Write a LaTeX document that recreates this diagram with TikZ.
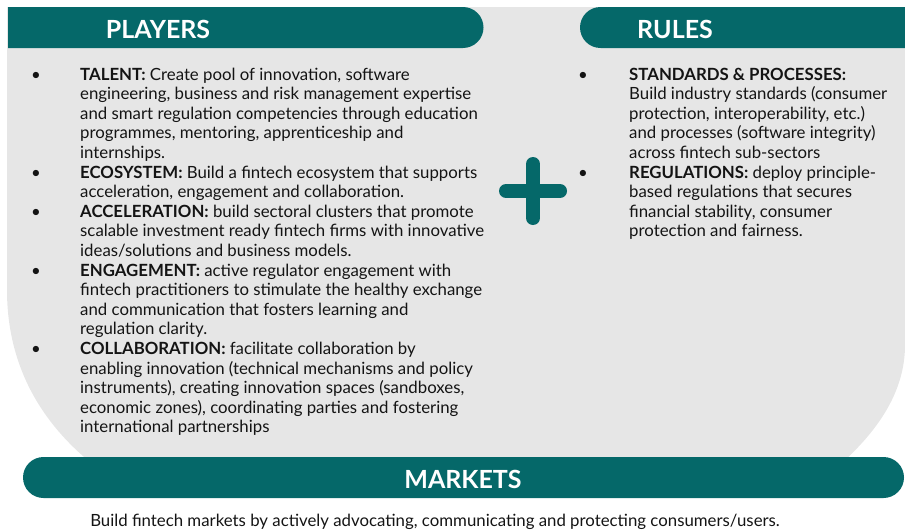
\documentclass[tikz,border=0pt]{standalone}
\usepackage{fontspec}
\setmainfont{Lato}
\definecolor{barteal}{RGB}{5, 104, 105}
\definecolor{panelgrey}{RGB}{230, 230, 230}
\definecolor{inkblack}{RGB}{20, 20, 20}
\usepackage{tikz}
\usetikzlibrary{positioning}
\tikzset{
  head/.style={font=\fontsize{25}{28}\selectfont\bfseries, text=white, inner sep=0pt},
  column/.style={font=\fontsize{16.8}{19.6}\selectfont, text=inkblack, inner sep=0pt, anchor=base west, align=left},
}

\begin{document}
\begin{tikzpicture}[x=1pt, y=-1pt]
  \useasboundingbox (0,0) rectangle (905,530);

  % Grey panel
  \fill[panelgrey] (7,7) -- (905,7) -- (905,345)
    .. controls (905,390) and (880,428) .. (843,462)
    -- (90,462) .. controls (45,425) and (7,370) .. (7,290) -- cycle;

  % Header bars
  \fill[barteal] (8,7) -- (463,7) arc (-90:90:20.5) -- (8,48) -- cycle;
  \fill[barteal] (905,7) -- (600.5,7) arc (-90:-270:20.5) -- (905,48) -- cycle;
  \fill[barteal, rounded corners=20.5] (23,457) rectangle (904,498);

  \node[head] (players) at (158,29) {PLAYERS};
  \node[head] (rules) at (675,29) {RULES};
  \node[head] (markets) at (463,479) {MARKETS};

  % Plus sign
  \draw[barteal, line width=14, line cap=round] (506,191) -- (560,191) (533,164) -- (533,218);

  % Players list
  \node[column] (playerlist) at (31,80) {%
    \begin{tabular}[t]{@{}p{49pt}@{}l@{}}
    • & \textbf{TALENT:} Create pool of innovation, software\\
      & engineering, business and risk management expertise\\
      & and smart regulation competencies through education\\
      & programmes, mentoring, apprenticeship and\\
      & internships.\\
    • & \textbf{ECOSYSTEM:} Build a fintech ecosystem that supports\\
      & acceleration, engagement and collaboration.\\
    • & \textbf{ACCELERATION:} build sectoral clusters that promote\\
      & scalable investment ready fintech firms with innovative\\
      & ideas/solutions and business models.\\
    • & \textbf{ENGAGEMENT:} active regulator engagement with\\
      & fintech practitioners to stimulate the healthy exchange\\
      & and communication that fosters learning and\\
      & regulation clarity.\\
    • & \textbf{COLLABORATION:} facilitate collaboration by\\
      & enabling innovation (technical mechanisms and policy\\
      & instruments), creating innovation spaces (sandboxes,\\
      & economic zones), coordinating parties and fostering\\
      & international partnerships
    \end{tabular}};

  % Rules list
  \node[column] (rulelist) at (578,80) {%
    \begin{tabular}[t]{@{}p{51pt}@{}l@{}}
    • & \textbf{STANDARDS \& PROCESSES:}\\
      & Build industry standards (consumer\\
      & protection, interoperability, etc.)\\
      & and processes (software integrity)\\
      & across fintech sub-sectors\\
    • & \textbf{REGULATIONS:} deploy principle-\\
      & based regulations that secures\\
      & financial stability, consumer\\
      & protection and fairness.
    \end{tabular}};

  % Markets line
  \node[column, anchor=base] (marketline) at (435,526)
    {Build fintech markets by actively advocating, communicating and protecting consumers/users.};
\end{tikzpicture}
\end{document}
